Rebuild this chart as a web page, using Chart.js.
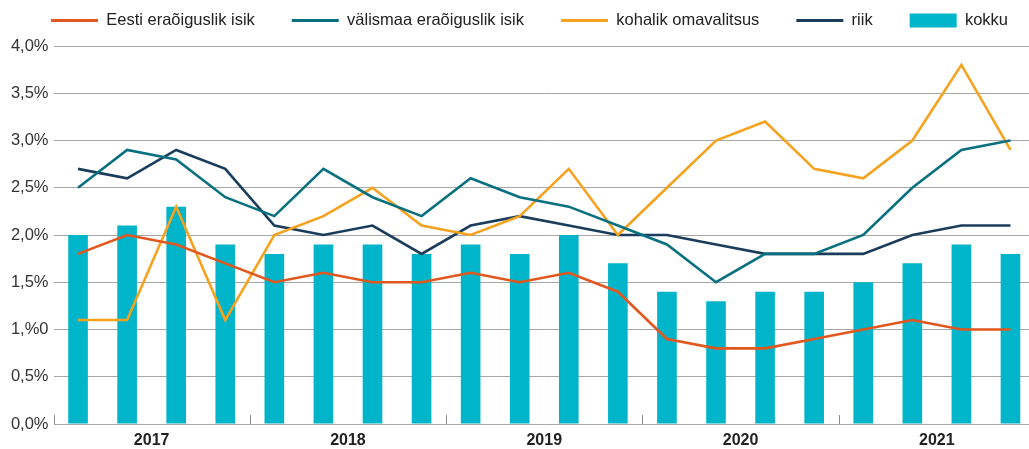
<!DOCTYPE html>
<html>
<head>
<meta charset="utf-8">
<script src="https://cdn.jsdelivr.net/npm/chart.js@4/dist/chart.umd.min.js"></script>
<style>
  html,body{margin:0;padding:0;background:#fff;overflow:hidden;}
  #wrap{width:1035px;height:449px;}
</style>
</head>
<body>
<div id="wrap"><canvas id="chart" width="1035" height="449"></canvas></div>
<script>
// ---------------- DATA ----------------
const quarters = [
  "2017 I","2017 II","2017 III","2017 IV",
  "2018 I","2018 II","2018 III","2018 IV",
  "2019 I","2019 II","2019 III","2019 IV",
  "2020 I","2020 II","2020 III","2020 IV",
  "2021 I","2021 II","2021 III","2021 IV"
];
const years = ["2017","2018","2019","2020","2021"];
const yTickLabels = ["0,0%","0,5%","1,%0","1,5%","2,0%","2,5%","3,0%","3,5%","4,0%"];

const eestiEra   = [1.8,2.0,1.9,1.7, 1.5,1.6,1.5,1.5, 1.6,1.5,1.6,1.4, 0.9,0.8,0.8,0.9, 1.0,1.1,1.0,1.0];
const valisEra   = [2.5,2.9,2.8,2.4, 2.2,2.7,2.4,2.2, 2.6,2.4,2.3,2.1, 1.9,1.5,1.8,1.8, 2.0,2.5,2.9,3.0];
const kohalikOV  = [1.1,1.1,2.3,1.1, 2.0,2.2,2.5,2.1, 2.0,2.2,2.7,2.0, 2.5,3.0,3.2,2.7, 2.6,3.0,3.8,2.9];
const riik       = [2.7,2.6,2.9,2.7, 2.1,2.0,2.1,1.8, 2.1,2.2,2.1,2.0, 2.0,1.9,1.8,1.8, 1.8,2.0,2.1,2.1];
const kokku      = [2.0,2.1,2.3,1.9, 1.8,1.9,1.9,1.8, 1.9,1.8,2.0,1.7, 1.4,1.3,1.4,1.4, 1.5,1.7,1.9,1.8];

const FONT = "'Liberation Sans', Arial, Helvetica, sans-serif";

// ---------------- PLUGINS ----------------
// legend: one row with wide gaps, short box height, nudged right
const legendFix = {
  id: "legendFix",
  beforeUpdate(chart){
    const lg = chart.legend;
    if(lg && !lg._fixed){
      const fit = lg.fit;
      lg.fit = function(){
        this.maxWidth = 1400;   // never wrap
        fit.call(this);
        this.height = 70.75;
      };
      lg._fixed = true;
    }
  },
  afterLayout(chart){
    const lg = chart.legend;
    lg.left += 12;
    lg.right += 12;
  }
};

// small year separators standing on the x axis
const yearTicks = {
  id: "yearTicks",
  beforeDatasetsDraw(chart){
    const xs = chart.scales.x;
    const area = chart.chartArea;
    const ctx = chart.ctx;
    ctx.save();
    ctx.strokeStyle = "#8c8c8c";
    ctx.lineWidth = 1;
    for(let i=0;i<quarters.length;i+=4){
      let x = i===0 ? xs.left : (xs.getPixelForValue(i-1)+xs.getPixelForValue(i))/2;
      x = Math.round(x)+0.5;
      ctx.beginPath();
      ctx.moveTo(x, area.bottom-9);
      ctx.lineTo(x, area.bottom);
      ctx.stroke();
    }
    ctx.restore();
  }
};

// ---------------- CHART ----------------
function lineSet(label, data, color){
  return {
    type:"line",
    label: label,
    data: data,
    borderColor: color,
    backgroundColor: color,
    borderWidth: 2.6,
    tension: 0,
    pointRadius: 0,
    fill: false,
    order: 0
  };
}

const ctx = document.getElementById("chart");

new Chart(ctx,{
  data:{
    labels: quarters,
    datasets:[
      lineSet("Eesti eraõiguslik isik", eestiEra, "#e2571e"),
      lineSet("välismaa eraõiguslik isik", valisEra, "#08707f"),
      lineSet("kohalik omavalitsus", kohalikOV, "#f5a21f"),
      lineSet("riik", riik, "#1a3d5c"),
      {
        type:"bar",
        label:"kokku",
        data: kokku,
        backgroundColor:"#00b5c9",
        barPercentage:0.4,
        categoryPercentage:1,
        order: 1
      }
    ]
  },
  options:{
    responsive:false,
    animation:false,
    layout:{ padding:{ left:0, top:-24.75, right:0, bottom:0 } },
    plugins:{
      tooltip:{ enabled:false },
      legend:{
        position:"top",
        labels:{
          usePointStyle:true,
          pointStyleWidth:47,
          boxHeight:14,
          padding:37,
          color:"#222",
          font:{ family:FONT, size:16.5 },
          generateLabels: chart => chart.data.datasets.map((ds,i) => {
            const isBar = ds.type === "bar";
            return {
              text: ds.label,
              fillStyle: isBar ? ds.backgroundColor : ds.borderColor,
              strokeStyle: isBar ? ds.backgroundColor : ds.borderColor,
              lineWidth: isBar ? 0 : 3,
              pointStyle: isBar ? "rect" : "line",
              hidden: false,
              datasetIndex: i,
              fontColor: "#222"
            };
          })
        }
      }
    },
    scales:{
      x:{
        display:false,
        offset:true
      },
      x2:{
        type:"category",
        labels: years,
        position:"bottom",
        offset:true,
        grid:{ display:false, drawTicks:false },
        border:{ display:false },
        ticks:{
          padding:9,
          color:"#222",
          font:{ family:FONT, size:16, weight:"bold", lineHeight:1 }
        },
        afterFit(scale){ scale.height = 25; }
      },
      y:{
        min:0,
        max:4,
        border:{ display:false },
        grid:{ color:"#a6a6a6", lineWidth:1, drawTicks:false },
        ticks:{
          stepSize:0.5,
          padding:5,
          color:"#333",
          font:{ family:FONT, size:16.5 },
          callback:(v,i) => yTickLabels[i]
        },
        afterFit(scale){ scale.width = 53.5; }
      }
    }
  },
  plugins:[legendFix, yearTicks]
});
</script>
</body>
</html>
